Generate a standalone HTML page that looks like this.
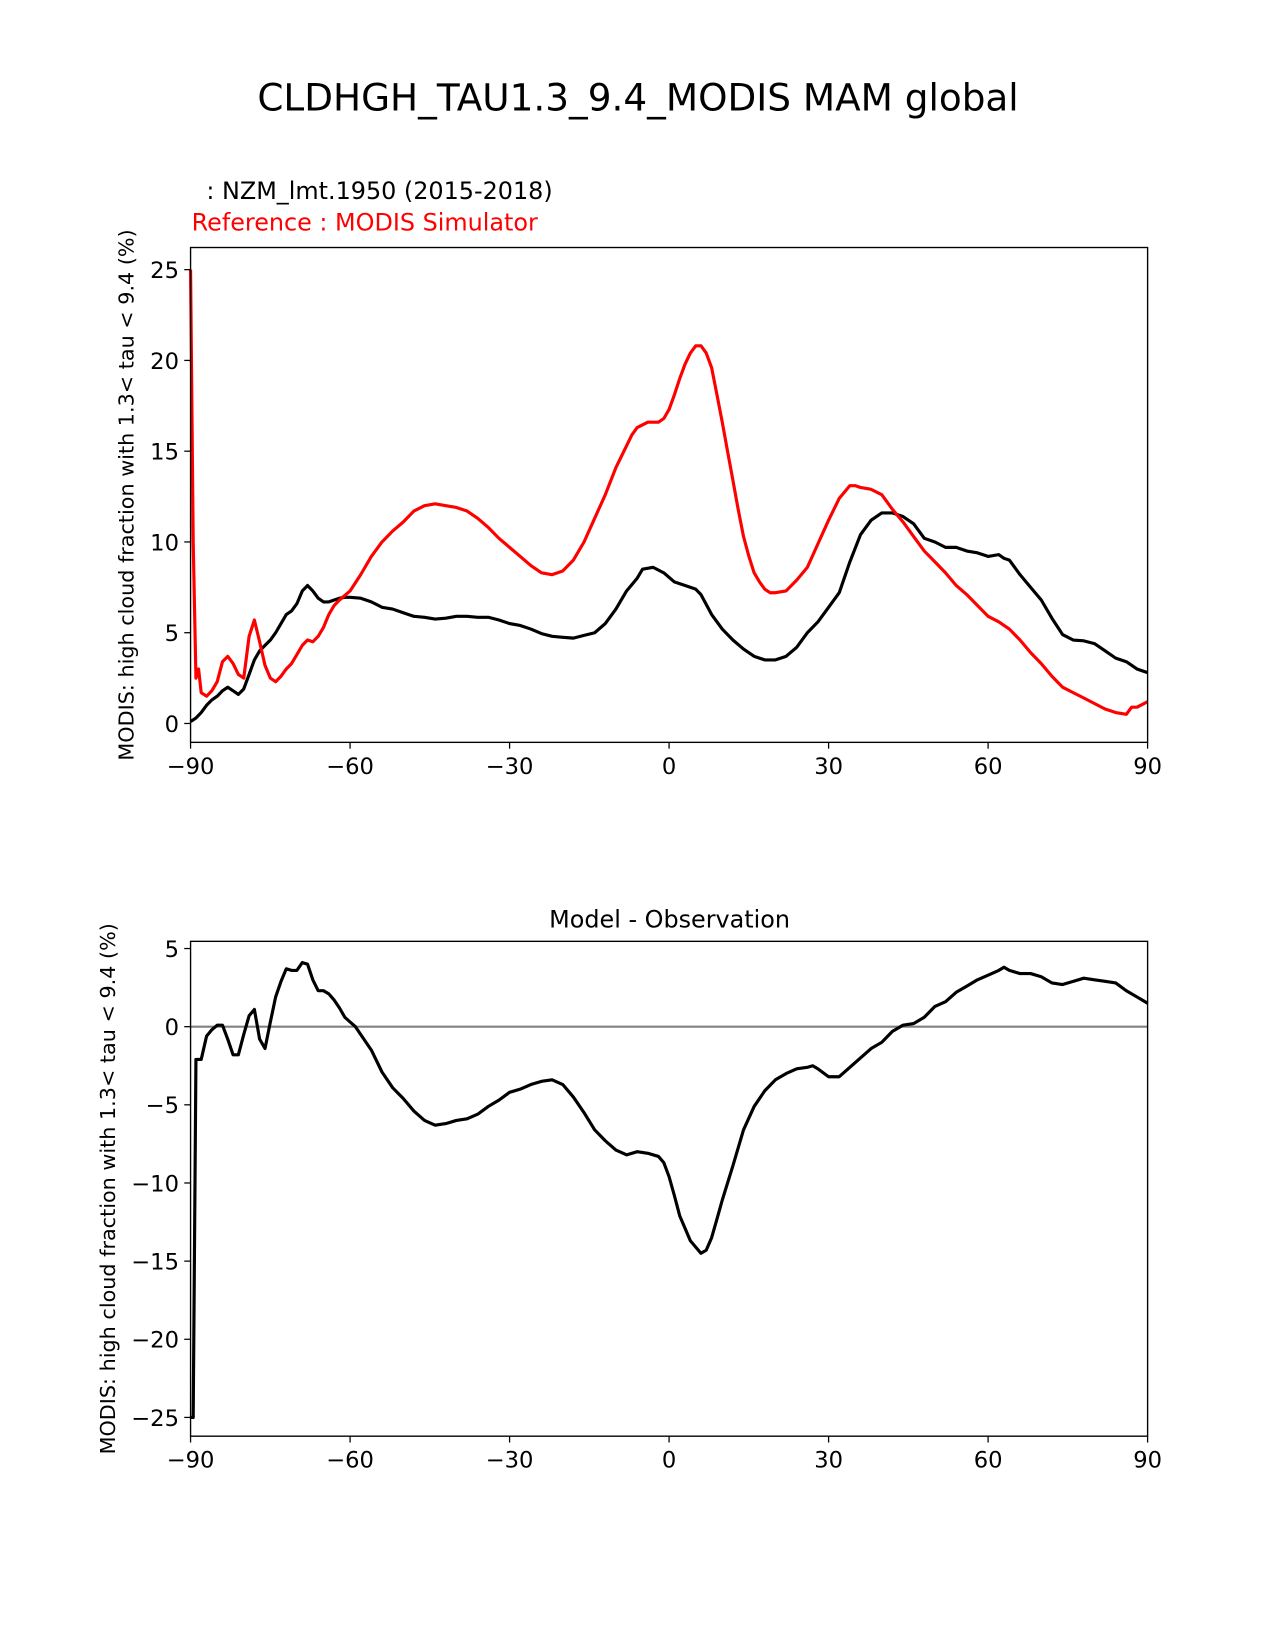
<!DOCTYPE html>
<html><head><meta charset="utf-8"><style>
html,body{margin:0;padding:0;background:#fff;width:1275px;height:1650px;overflow:hidden}
svg{display:block;position:absolute;left:0;top:0;font-family:"DejaVu Sans","Liberation Sans",sans-serif}
</style></head><body>
<svg id="fig" width="1275" height="1650" viewBox="0 0 1211 1567">
<text x="606" y="105" font-size="35.5" text-anchor="middle">CLDHGH_TAU1.3_9.4_MODIS MAM global</text>
<text x="196" y="189" font-size="22.7">: NZM_lmt.1950 (2015-2018)</text>
<text x="182" y="219" font-size="22.7" fill="#ff0000">Reference : MODIS Simulator</text>
<text x="636" y="881" font-size="22.7" text-anchor="middle">Model - Observation</text>
</svg>
<script>
const topLats=[-90,-89,-88,-87,-86,-85,-84,-83,-82,-81,-80,-79,-78,-77,-76,-75,-74,-73,-72,-71,-70,-69,-68,-67,-66,-65,-64,-63,-62,-61,-60,-58,-56,-54,-52,-50,-48,-46,-44,-42,-40,-38,-36,-34,-32,-30,-28,-26,-24,-22,-20,-18,-16,-14,-12,-10,-8,-6,-5,-3,-1,1,3,5,6,8,10,12,14,16,18,20,22,24,26,28,30,32,34,36,38,40,42,44,46,48,50,52,54,56,58,60,62,63,64,66,68,70,72,74,76,78,80,82,84,86,88,90];
const modelVals=[0.1,0.3,0.6,1.0,1.3,1.5,1.8,2.0,1.8,1.6,1.9,2.7,3.5,4.0,4.3,4.6,5.0,5.5,6.0,6.2,6.6,7.3,7.6,7.3,6.9,6.7,6.7,6.8,6.9,6.95,6.95,6.9,6.7,6.4,6.3,6.1,5.9,5.85,5.75,5.8,5.9,5.9,5.85,5.85,5.7,5.5,5.4,5.2,4.95,4.8,4.75,4.7,4.85,5.0,5.5,6.3,7.3,8.0,8.5,8.6,8.3,7.8,7.6,7.4,7.1,6.0,5.2,4.6,4.1,3.7,3.5,3.5,3.7,4.2,5.0,5.6,6.4,7.2,8.9,10.4,11.2,11.6,11.6,11.4,11.0,10.2,10.0,9.7,9.7,9.5,9.4,9.2,9.3,9.1,9.0,8.2,7.5,6.8,5.8,4.9,4.6,4.55,4.4,4.0,3.6,3.4,3.0,2.8];
const obsLats=[-90,-89.5,-89,-88.5,-88,-87,-86,-85,-84,-83,-82,-81,-80,-79,-78,-77,-76,-75,-74,-73,-72,-71,-70,-69,-68,-67,-66,-65,-64,-63,-62,-60,-58,-56,-54,-52,-50,-48,-46,-44,-42,-40,-38,-36,-34,-32,-30,-28,-26,-24,-22,-20,-18,-16,-14,-12,-10,-8,-7,-6,-4,-2,-1,0,1,2,3,4,5,6,7,8,9,10,11,12,13,14,15,16,17,18,19,20,22,24,26,28,30,32,34,35,36,38,40,42,44,46,48,50,52,54,56,58,60,62,64,66,68,70,72,74,76,78,80,82,84,86,87,88,90];
const obsVals=[25,10,2.5,3.0,1.7,1.5,1.8,2.3,3.4,3.7,3.3,2.7,2.5,4.8,5.7,4.5,3.2,2.5,2.3,2.6,3.0,3.3,3.8,4.3,4.6,4.5,4.8,5.3,6.0,6.5,6.8,7.3,8.2,9.2,10.0,10.6,11.1,11.7,12.0,12.1,12.0,11.9,11.7,11.3,10.8,10.2,9.7,9.2,8.7,8.3,8.2,8.4,9.0,10.0,11.3,12.6,14.1,15.3,15.9,16.3,16.6,16.6,16.8,17.3,18.1,19.0,19.8,20.4,20.8,20.8,20.4,19.6,18.1,16.6,15.0,13.4,11.8,10.3,9.2,8.3,7.8,7.4,7.2,7.2,7.3,7.9,8.6,9.9,11.2,12.4,13.1,13.1,13.0,12.9,12.6,11.8,11.1,10.3,9.5,8.9,8.3,7.6,7.1,6.5,5.9,5.6,5.2,4.6,3.9,3.3,2.6,2.0,1.7,1.4,1.1,0.8,0.6,0.5,0.9,0.9,1.2];
const diffLats=[-90,-89.5,-89,-88,-87,-86,-85,-84,-83,-82,-81,-80,-79,-78,-77,-76,-75,-74,-73,-72,-71,-70,-69,-68,-67,-66,-65,-64,-63,-62,-61,-60,-59,-58,-56,-54,-52,-50,-48,-46,-44,-42,-40,-38,-36,-34,-32,-30,-28,-26,-24,-22,-20,-18,-16,-14,-12,-10,-8,-6,-4,-2,-1,0,1,2,3,4,5,6,7,8,9,10,12,14,16,18,20,22,24,26,27,28,30,32,34,36,38,40,42,44,46,48,50,52,54,56,58,60,62,63,64,66,68,70,72,74,76,78,80,82,84,86,88,90];
const diffVals=[-25,-25,-2.1,-2.1,-0.6,-0.2,0.1,0.1,-0.8,-1.8,-1.8,-0.5,0.7,1.1,-0.8,-1.4,0.3,1.9,2.9,3.7,3.6,3.6,4.1,4.0,3.0,2.3,2.3,2.1,1.7,1.2,0.6,0.3,0,-0.5,-1.5,-2.9,-3.9,-4.6,-5.4,-6.0,-6.3,-6.2,-6.0,-5.9,-5.6,-5.1,-4.7,-4.2,-4.0,-3.7,-3.5,-3.4,-3.7,-4.5,-5.5,-6.6,-7.3,-7.9,-8.2,-8.0,-8.1,-8.3,-8.7,-9.6,-10.8,-12.1,-12.9,-13.7,-14.1,-14.5,-14.3,-13.5,-12.3,-11.1,-8.9,-6.6,-5.1,-4.1,-3.4,-3.0,-2.7,-2.6,-2.5,-2.7,-3.2,-3.2,-2.6,-2.0,-1.4,-1.0,-0.3,0.1,0.2,0.6,1.3,1.6,2.2,2.6,3.0,3.3,3.6,3.8,3.6,3.4,3.4,3.2,2.8,2.7,2.9,3.1,3.0,2.9,2.8,2.3,1.9,1.5];
const xTicks=[-90,-60,-30,0,30,60,90];
const topYTicks=[0,5,10,15,20,25];
const botYTicks=[-25,-20,-15,-10,-5,0,5];
const NS='http://www.w3.org/2000/svg';
const svg=document.getElementById('fig');
function el(tag,attrs,parent){const e=document.createElementNS(NS,tag);for(const k in attrs)e.setAttribute(k,attrs[k]);(parent||svg).appendChild(e);return e;}
function panel(name,top,bottom,yMin,yMax){
  const L=181,R=1090;
  const g=el('g',{});
  
  
  const x=v=>L+(v+90)/180*(R-L);
  const y=v=>bottom-(v-yMin)/(yMax-yMin)*(bottom-top);
  return {g,x,y,L,R,top,bottom};
}
function axes(p,yTicks,label,lx){
  const fr=el('rect',{x:p.L,y:p.top,width:p.R-p.L,height:p.bottom-p.top,fill:'none',stroke:'#000','stroke-width':1.3},p.g);
  
  
  xTicks.forEach(t=>{
    el('line',{x1:p.x(t),x2:p.x(t),y1:p.bottom,y2:p.bottom+6,stroke:'#000','stroke-width':1.2},p.g);
    const tx=el('text',{x:p.x(t),y:p.bottom+30,'font-size':21.5,'text-anchor':'middle'},p.g);
    tx.textContent=(t<0?'\u2212'+(-t):t);
    
    
  });
  yTicks.forEach(t=>{
    el('line',{x1:p.L-6,x2:p.L,y1:p.y(t),y2:p.y(t),stroke:'#000','stroke-width':1.2},p.g);
    const tx=el('text',{x:p.L-11,y:p.y(t)+8,'font-size':21.5,'text-anchor':'end'},p.g);
    tx.textContent=(t<0?'\u2212'+(-t):t);
    
    
  });
  const cy=(p.top+p.bottom)/2;
  const yl=el('text',{x:lx,y:cy,'font-size':19.7,'text-anchor':'middle',transform:`rotate(-90 ${lx} ${cy})`},p.g);
  yl.textContent=label;
  
  
}
function line(p,lats,vals,color,name){
  const d=lats.map((la,i)=>(i?'L':'M')+p.x(la).toFixed(1)+','+p.y(vals[i]).toFixed(1)).join(' ');
  const pa=el('path',{d,fill:'none',stroke:color,'stroke-width':3,'stroke-linejoin':'round'},p.g);
  
  
}
const label='MODIS: high cloud fraction with 1.3< tau < 9.4 (%)';
const p1=panel('top-panel',235,705,-1.04,26.22);
line(p1,topLats,modelVals,'#000','model-line');
line(p1,obsLats,obsVals,'#ff0000','reference-line');
axes(p1,topYTicks,label,127);
const p2=panel('bottom-panel',894,1364,-26.2,5.46);
const zl=el('line',{x1:p2.L,x2:p2.R,y1:p2.y(0),y2:p2.y(0),stroke:'#808080','stroke-width':2},p2.g);


line(p2,diffLats,diffVals,'#000','difference-line');
axes(p2,botYTicks,label,109);
</script>
</body></html>
